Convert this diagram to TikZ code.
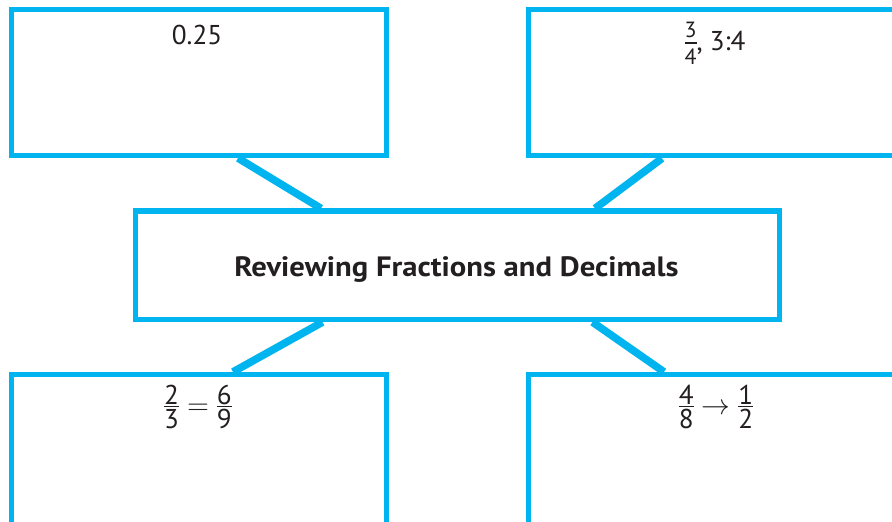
\documentclass[tikz,border=0pt]{standalone}
\usepackage{amsmath}
\usepackage{fontspec}
\setmainfont{PT Sans}
\newfontfamily\ttlfont{PT Sans}[FakeStretch=1.095]
\usetikzlibrary{backgrounds}
\definecolor{cy}{RGB}{0,181,239}
\definecolor{ink}{RGB}{35,31,32}
% #1 font size, #2 numerator depth, #3 denominator row height, #4 numerator, #5 denominator
\newcommand\frx[5]{\ensuremath{\vcenter{\hbox{\fontsize{#1}{#1}\selectfont
  \renewcommand\arraystretch{0}\setlength\arrayrulewidth{0.6pt}%
  \begin{tabular}{@{}c@{}}\rule[-#2]{0pt}{0.5pt}#4\\\hline\rule{0pt}{#3}#5\end{tabular}}}}}
\newcommand\frbig[2]{\frx{13.6pt}{0.7pt}{10.6pt}{#1}{#2}}
\newcommand\frsmall[2]{\frx{11pt}{2.5pt}{10.2pt}{#1}{#2}}
\begin{document}
\begin{tikzpicture}[x=0.5pt,y=-0.5pt,
  box/.style={draw=cy, line width=2.6pt, fill=white, rectangle, inner sep=0pt},
  cornerbox/.style={box, minimum width=187.5pt, minimum height=73pt},
  lowbox/.style={box, minimum width=187.5pt, minimum height=76pt},
  link/.style={draw=cy, line width=3.8pt},
  txt/.style={text=ink, font=\fontsize{13.6}{16}\selectfont, inner sep=0pt},
  ttl/.style={text=ink, font=\fontsize{14}{16}\selectfont\ttlfont\bfseries, inner sep=0pt}]
\clip (0,0) rectangle (892,521);
\useasboundingbox (0,0) rectangle (892,521);
\node[cornerbox] (tl) at (199,82.5) {};
\node[cornerbox] (tr) at (716,82.75) {};
\node[box, minimum width=322pt, minimum height=54.25pt] (c) at (457.5,265.25) {};
\node[lowbox] (bl) at (199,450.5) {};
\node[lowbox] (br) at (716,450.5) {};
\begin{scope}[on background layer]
  \draw[link] (tl.south -| 238,0) -- (c.north -| 321,0);
  \draw[link] (tr.south -| 662,0) -- (c.north -| 595,0);
  \draw[link] (c.south -| 322.5,0) -- (bl.north -| 233,0);
  \draw[link] (c.south -| 592.5,0) -- (br.north -| 664,0);
\end{scope}
\node[txt, anchor=base] (t1) at (197,44) {0.25};
\node[txt] (t2) at (715,43) {\frsmall{3}{4}, 3:4};
\node[ttl, anchor=base] (title) at (456.5,276) {Reviewing Fractions and Decimals};
\node[txt] (t3) at (198,407) {$\frbig{2}{3}=\frbig{6}{9}$};
\node[txt] (t4) at (716,407) {$\frbig{4}{8}\rightarrow\frbig{1}{2}$};
\end{tikzpicture}
\end{document}
